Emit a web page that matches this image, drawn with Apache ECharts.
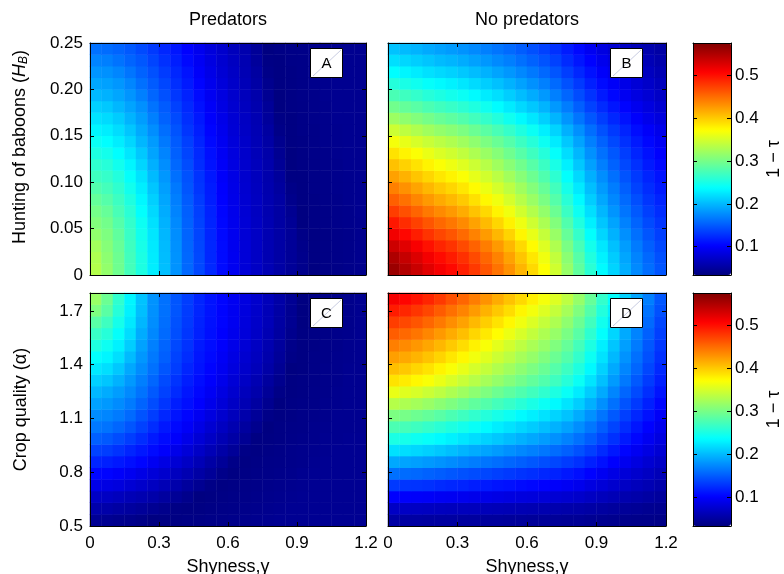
<!DOCTYPE html>
<html>
<head>
<meta charset="utf-8">
<script src="https://cdn.jsdelivr.net/npm/echarts@6/dist/echarts.min.js"></script>
<style>
  html, body { margin: 0; padding: 0; background: #fff; }
  #chart { width: 784px; height: 574px; }
</style>
</head>
<body>
<div id="chart"></div>
<script>
// cell centres: 24 columns of shyness, 20 rows per panel
const shynessCells = [0.025, 0.075, 0.125, 0.175, 0.225, 0.275, 0.325, 0.375, 0.425, 0.475, 0.525, 0.575,
  0.625, 0.675, 0.725, 0.775, 0.825, 0.875, 0.925, 0.975, 1.025, 1.075, 1.125, 1.175];
const huntingCells = [0.00625, 0.01875, 0.03125, 0.04375, 0.05625, 0.06875, 0.08125, 0.09375, 0.10625, 0.11875,
  0.13125, 0.14375, 0.15625, 0.16875, 0.18125, 0.19375, 0.20625, 0.21875, 0.23125, 0.24375];
const cropCells = [0.5325, 0.5975, 0.6625, 0.7275, 0.7925, 0.8575, 0.9225, 0.9875, 1.0525, 1.1175,
  1.1825, 1.2475, 1.3125, 1.3775, 1.4425, 1.5075, 1.5725, 1.6375, 1.7025, 1.7675];

const shynessTicks = [0, 0.3, 0.6, 0.9, 1.2];
const huntingTicks = [0, 0.05, 0.1, 0.15, 0.2, 0.25];
const cropTicks = [0.5, 0.8, 1.1, 1.4, 1.7];
const colorTicks = [0.1, 0.2, 0.3, 0.4, 0.5];
const colorMin = 0.034;
const colorMax = 0.575;

// 1 - tau, one row per hunting / crop cell, bottom row first
const predatorsHunting = [
  [0.332, 0.315, 0.296, 0.273, 0.252, 0.228, 0.203, 0.180, 0.157, 0.140, 0.123, 0.107, 0.094, 0.081, 0.071, 0.062, 0.054, 0.047, 0.041, 0.035, 0.037, 0.038, 0.040, 0.041],
  [0.329, 0.312, 0.295, 0.272, 0.251, 0.227, 0.202, 0.180, 0.157, 0.140, 0.122, 0.107, 0.094, 0.081, 0.071, 0.061, 0.054, 0.047, 0.041, 0.036, 0.037, 0.039, 0.040, 0.042],
  [0.323, 0.308, 0.292, 0.270, 0.249, 0.226, 0.201, 0.179, 0.156, 0.139, 0.122, 0.107, 0.093, 0.081, 0.071, 0.061, 0.054, 0.047, 0.040, 0.036, 0.037, 0.039, 0.040, 0.042],
  [0.314, 0.304, 0.288, 0.267, 0.246, 0.224, 0.199, 0.177, 0.155, 0.138, 0.121, 0.106, 0.093, 0.080, 0.071, 0.061, 0.054, 0.047, 0.038, 0.036, 0.037, 0.039, 0.040, 0.042],
  [0.306, 0.298, 0.282, 0.264, 0.243, 0.221, 0.196, 0.175, 0.154, 0.137, 0.120, 0.105, 0.092, 0.080, 0.070, 0.061, 0.053, 0.046, 0.035, 0.037, 0.038, 0.040, 0.041, 0.042],
  [0.299, 0.291, 0.275, 0.259, 0.238, 0.217, 0.193, 0.172, 0.152, 0.135, 0.119, 0.104, 0.091, 0.079, 0.069, 0.060, 0.053, 0.044, 0.035, 0.037, 0.038, 0.040, 0.041, 0.043],
  [0.290, 0.282, 0.269, 0.253, 0.233, 0.212, 0.190, 0.169, 0.150, 0.133, 0.117, 0.102, 0.090, 0.078, 0.069, 0.060, 0.053, 0.041, 0.036, 0.037, 0.039, 0.040, 0.042, 0.043],
  [0.280, 0.273, 0.262, 0.246, 0.228, 0.207, 0.186, 0.166, 0.147, 0.130, 0.116, 0.101, 0.089, 0.077, 0.068, 0.059, 0.051, 0.039, 0.036, 0.038, 0.039, 0.041, 0.042, 0.043],
  [0.270, 0.265, 0.255, 0.239, 0.222, 0.201, 0.182, 0.161, 0.145, 0.128, 0.114, 0.099, 0.088, 0.076, 0.067, 0.058, 0.049, 0.036, 0.036, 0.038, 0.039, 0.041, 0.042, 0.043],
  [0.262, 0.257, 0.246, 0.232, 0.215, 0.195, 0.177, 0.157, 0.142, 0.125, 0.111, 0.098, 0.086, 0.075, 0.066, 0.058, 0.046, 0.035, 0.037, 0.038, 0.040, 0.041, 0.043, 0.043],
  [0.252, 0.247, 0.237, 0.224, 0.208, 0.189, 0.172, 0.153, 0.138, 0.123, 0.109, 0.096, 0.084, 0.074, 0.064, 0.056, 0.044, 0.035, 0.037, 0.039, 0.040, 0.042, 0.043, 0.043],
  [0.242, 0.237, 0.228, 0.216, 0.199, 0.184, 0.166, 0.150, 0.135, 0.120, 0.106, 0.094, 0.082, 0.073, 0.063, 0.054, 0.042, 0.036, 0.037, 0.039, 0.041, 0.042, 0.043, 0.043],
  [0.232, 0.228, 0.219, 0.207, 0.192, 0.177, 0.160, 0.146, 0.130, 0.117, 0.103, 0.092, 0.080, 0.071, 0.062, 0.052, 0.039, 0.036, 0.038, 0.039, 0.041, 0.042, 0.043, 0.043],
  [0.222, 0.218, 0.210, 0.197, 0.185, 0.170, 0.154, 0.141, 0.126, 0.114, 0.100, 0.090, 0.079, 0.070, 0.061, 0.049, 0.037, 0.036, 0.038, 0.040, 0.041, 0.043, 0.043, 0.043],
  [0.212, 0.208, 0.199, 0.189, 0.178, 0.163, 0.150, 0.136, 0.123, 0.110, 0.098, 0.087, 0.077, 0.068, 0.059, 0.047, 0.035, 0.037, 0.038, 0.040, 0.041, 0.043, 0.043, 0.043],
  [0.200, 0.196, 0.190, 0.181, 0.170, 0.156, 0.144, 0.131, 0.119, 0.107, 0.095, 0.085, 0.075, 0.066, 0.057, 0.044, 0.035, 0.037, 0.039, 0.040, 0.042, 0.043, 0.043, 0.043],
  [0.190, 0.187, 0.182, 0.173, 0.161, 0.150, 0.139, 0.126, 0.115, 0.103, 0.092, 0.082, 0.073, 0.064, 0.054, 0.042, 0.036, 0.037, 0.039, 0.041, 0.042, 0.043, 0.043, 0.043],
  [0.181, 0.179, 0.173, 0.164, 0.154, 0.144, 0.133, 0.122, 0.111, 0.099, 0.089, 0.079, 0.071, 0.062, 0.052, 0.039, 0.036, 0.037, 0.039, 0.041, 0.042, 0.043, 0.043, 0.043],
  [0.172, 0.169, 0.163, 0.155, 0.148, 0.138, 0.127, 0.117, 0.106, 0.096, 0.086, 0.077, 0.069, 0.061, 0.049, 0.037, 0.036, 0.038, 0.039, 0.041, 0.042, 0.043, 0.043, 0.043],
  [0.162, 0.159, 0.155, 0.149, 0.141, 0.132, 0.122, 0.113, 0.102, 0.093, 0.083, 0.075, 0.066, 0.059, 0.047, 0.035, 0.037, 0.038, 0.039, 0.041, 0.042, 0.043, 0.043, 0.043]
];
const noPredatorsHunting = [
  [0.560, 0.548, 0.536, 0.523, 0.512, 0.503, 0.491, 0.477, 0.462, 0.446, 0.430, 0.411, 0.392, 0.371, 0.347, 0.317, 0.288, 0.259, 0.235, 0.214, 0.194, 0.175, 0.160, 0.147],
  [0.550, 0.538, 0.526, 0.513, 0.502, 0.493, 0.482, 0.468, 0.453, 0.438, 0.421, 0.403, 0.385, 0.364, 0.340, 0.311, 0.283, 0.254, 0.230, 0.210, 0.190, 0.172, 0.157, 0.144],
  [0.534, 0.523, 0.511, 0.499, 0.488, 0.480, 0.468, 0.455, 0.441, 0.426, 0.410, 0.392, 0.374, 0.354, 0.330, 0.302, 0.275, 0.247, 0.224, 0.204, 0.185, 0.167, 0.152, 0.140],
  [0.514, 0.504, 0.492, 0.480, 0.470, 0.462, 0.451, 0.438, 0.425, 0.410, 0.395, 0.377, 0.360, 0.341, 0.318, 0.291, 0.265, 0.238, 0.215, 0.196, 0.178, 0.161, 0.147, 0.135],
  [0.495, 0.484, 0.473, 0.462, 0.452, 0.444, 0.434, 0.421, 0.408, 0.394, 0.379, 0.363, 0.346, 0.328, 0.306, 0.280, 0.254, 0.229, 0.207, 0.189, 0.171, 0.155, 0.141, 0.130],
  [0.475, 0.465, 0.454, 0.443, 0.434, 0.426, 0.416, 0.404, 0.392, 0.378, 0.364, 0.348, 0.332, 0.315, 0.294, 0.268, 0.244, 0.220, 0.199, 0.181, 0.164, 0.149, 0.135, 0.125],
  [0.456, 0.447, 0.436, 0.426, 0.417, 0.409, 0.400, 0.388, 0.376, 0.364, 0.350, 0.334, 0.319, 0.302, 0.282, 0.258, 0.235, 0.211, 0.191, 0.174, 0.158, 0.143, 0.130, 0.120],
  [0.439, 0.430, 0.420, 0.410, 0.401, 0.394, 0.385, 0.374, 0.362, 0.350, 0.337, 0.322, 0.307, 0.291, 0.272, 0.248, 0.226, 0.203, 0.184, 0.168, 0.152, 0.137, 0.125, 0.115],
  [0.422, 0.413, 0.403, 0.394, 0.385, 0.378, 0.370, 0.359, 0.348, 0.336, 0.323, 0.309, 0.295, 0.279, 0.261, 0.238, 0.217, 0.195, 0.177, 0.161, 0.146, 0.132, 0.120, 0.111],
  [0.405, 0.396, 0.387, 0.378, 0.370, 0.363, 0.355, 0.345, 0.334, 0.322, 0.310, 0.297, 0.283, 0.268, 0.250, 0.229, 0.208, 0.187, 0.169, 0.154, 0.140, 0.127, 0.115, 0.106],
  [0.387, 0.378, 0.370, 0.361, 0.353, 0.347, 0.339, 0.329, 0.319, 0.308, 0.296, 0.283, 0.270, 0.256, 0.239, 0.219, 0.199, 0.179, 0.162, 0.148, 0.134, 0.121, 0.110, 0.101],
  [0.367, 0.360, 0.351, 0.343, 0.336, 0.330, 0.322, 0.313, 0.303, 0.293, 0.282, 0.269, 0.257, 0.243, 0.227, 0.208, 0.189, 0.170, 0.154, 0.140, 0.127, 0.115, 0.105, 0.096],
  [0.345, 0.338, 0.330, 0.322, 0.315, 0.310, 0.303, 0.294, 0.285, 0.275, 0.265, 0.253, 0.242, 0.229, 0.214, 0.195, 0.178, 0.160, 0.145, 0.132, 0.120, 0.108, 0.099, 0.091],
  [0.320, 0.313, 0.306, 0.299, 0.292, 0.287, 0.280, 0.272, 0.264, 0.255, 0.245, 0.234, 0.224, 0.212, 0.198, 0.181, 0.164, 0.148, 0.134, 0.122, 0.111, 0.100, 0.091, 0.084],
  [0.297, 0.290, 0.284, 0.277, 0.271, 0.266, 0.260, 0.253, 0.245, 0.236, 0.227, 0.217, 0.208, 0.197, 0.183, 0.168, 0.152, 0.137, 0.124, 0.113, 0.103, 0.093, 0.085, 0.078],
  [0.276, 0.270, 0.264, 0.257, 0.252, 0.247, 0.242, 0.235, 0.227, 0.220, 0.211, 0.202, 0.193, 0.183, 0.170, 0.156, 0.142, 0.128, 0.115, 0.105, 0.095, 0.086, 0.079, 0.072],
  [0.256, 0.250, 0.245, 0.239, 0.234, 0.230, 0.224, 0.218, 0.211, 0.204, 0.196, 0.188, 0.179, 0.170, 0.158, 0.145, 0.132, 0.118, 0.107, 0.098, 0.089, 0.080, 0.073, 0.067],
  [0.237, 0.232, 0.227, 0.221, 0.217, 0.213, 0.208, 0.202, 0.196, 0.189, 0.182, 0.174, 0.166, 0.157, 0.147, 0.134, 0.122, 0.110, 0.099, 0.091, 0.082, 0.074, 0.068, 0.062],
  [0.220, 0.216, 0.211, 0.206, 0.201, 0.198, 0.193, 0.187, 0.182, 0.175, 0.169, 0.161, 0.154, 0.146, 0.136, 0.124, 0.113, 0.102, 0.092, 0.084, 0.076, 0.069, 0.063, 0.058],
  [0.205, 0.201, 0.197, 0.192, 0.188, 0.184, 0.180, 0.175, 0.170, 0.164, 0.158, 0.151, 0.144, 0.136, 0.127, 0.116, 0.106, 0.095, 0.086, 0.078, 0.071, 0.064, 0.059, 0.054]
];
const predatorsCrop = [
  [0.045, 0.044, 0.042, 0.041, 0.038, 0.035, 0.036, 0.036, 0.037, 0.037, 0.038, 0.039, 0.040, 0.041, 0.042, 0.043, 0.044, 0.044, 0.044, 0.044, 0.044, 0.044, 0.044, 0.044],
  [0.057, 0.056, 0.053, 0.051, 0.048, 0.044, 0.041, 0.037, 0.036, 0.036, 0.037, 0.038, 0.039, 0.040, 0.041, 0.042, 0.043, 0.044, 0.044, 0.044, 0.044, 0.044, 0.044, 0.044],
  [0.071, 0.070, 0.067, 0.063, 0.060, 0.056, 0.051, 0.046, 0.041, 0.035, 0.036, 0.037, 0.038, 0.039, 0.040, 0.041, 0.042, 0.043, 0.044, 0.044, 0.044, 0.044, 0.044, 0.044],
  [0.089, 0.087, 0.084, 0.079, 0.074, 0.069, 0.063, 0.057, 0.050, 0.044, 0.038, 0.036, 0.037, 0.038, 0.039, 0.040, 0.041, 0.042, 0.043, 0.044, 0.044, 0.044, 0.044, 0.044],
  [0.105, 0.103, 0.099, 0.094, 0.088, 0.081, 0.075, 0.068, 0.061, 0.054, 0.047, 0.040, 0.036, 0.037, 0.038, 0.039, 0.040, 0.041, 0.043, 0.044, 0.044, 0.044, 0.044, 0.044],
  [0.121, 0.118, 0.114, 0.109, 0.104, 0.095, 0.087, 0.079, 0.071, 0.063, 0.054, 0.047, 0.039, 0.036, 0.037, 0.038, 0.039, 0.040, 0.041, 0.043, 0.044, 0.044, 0.044, 0.044],
  [0.137, 0.134, 0.128, 0.121, 0.114, 0.107, 0.100, 0.090, 0.081, 0.072, 0.063, 0.055, 0.047, 0.038, 0.036, 0.037, 0.038, 0.040, 0.041, 0.042, 0.043, 0.044, 0.044, 0.044],
  [0.153, 0.149, 0.142, 0.134, 0.125, 0.115, 0.107, 0.100, 0.090, 0.080, 0.071, 0.062, 0.054, 0.045, 0.036, 0.036, 0.037, 0.039, 0.040, 0.041, 0.043, 0.043, 0.044, 0.044],
  [0.166, 0.163, 0.156, 0.147, 0.136, 0.125, 0.114, 0.106, 0.098, 0.088, 0.078, 0.069, 0.060, 0.051, 0.042, 0.035, 0.037, 0.038, 0.039, 0.041, 0.042, 0.043, 0.043, 0.043],
  [0.176, 0.173, 0.167, 0.158, 0.146, 0.134, 0.122, 0.112, 0.104, 0.095, 0.085, 0.076, 0.066, 0.057, 0.047, 0.039, 0.036, 0.037, 0.039, 0.040, 0.041, 0.043, 0.043, 0.043],
  [0.187, 0.183, 0.176, 0.167, 0.155, 0.142, 0.130, 0.117, 0.109, 0.101, 0.091, 0.081, 0.071, 0.062, 0.052, 0.043, 0.035, 0.037, 0.038, 0.039, 0.041, 0.042, 0.043, 0.043],
  [0.199, 0.193, 0.185, 0.175, 0.163, 0.149, 0.136, 0.124, 0.113, 0.105, 0.096, 0.086, 0.076, 0.066, 0.057, 0.047, 0.038, 0.036, 0.037, 0.039, 0.040, 0.042, 0.043, 0.043],
  [0.212, 0.207, 0.196, 0.183, 0.169, 0.156, 0.141, 0.129, 0.117, 0.108, 0.100, 0.091, 0.080, 0.071, 0.061, 0.051, 0.042, 0.036, 0.037, 0.038, 0.040, 0.041, 0.043, 0.043],
  [0.226, 0.220, 0.208, 0.191, 0.176, 0.162, 0.147, 0.134, 0.121, 0.111, 0.103, 0.094, 0.084, 0.074, 0.065, 0.055, 0.045, 0.035, 0.036, 0.038, 0.040, 0.041, 0.043, 0.043],
  [0.238, 0.232, 0.220, 0.201, 0.182, 0.166, 0.152, 0.137, 0.125, 0.113, 0.106, 0.097, 0.087, 0.077, 0.068, 0.058, 0.048, 0.038, 0.036, 0.038, 0.039, 0.041, 0.042, 0.043],
  [0.253, 0.244, 0.230, 0.211, 0.188, 0.170, 0.155, 0.140, 0.128, 0.115, 0.108, 0.100, 0.090, 0.080, 0.070, 0.060, 0.050, 0.040, 0.036, 0.037, 0.039, 0.040, 0.042, 0.043],
  [0.267, 0.257, 0.239, 0.219, 0.193, 0.174, 0.158, 0.143, 0.130, 0.118, 0.109, 0.101, 0.092, 0.082, 0.072, 0.062, 0.052, 0.042, 0.036, 0.037, 0.038, 0.040, 0.041, 0.043],
  [0.284, 0.270, 0.248, 0.225, 0.199, 0.177, 0.160, 0.145, 0.132, 0.119, 0.110, 0.103, 0.094, 0.083, 0.073, 0.064, 0.053, 0.044, 0.035, 0.037, 0.038, 0.040, 0.041, 0.043],
  [0.304, 0.285, 0.257, 0.230, 0.203, 0.179, 0.162, 0.147, 0.133, 0.121, 0.111, 0.103, 0.094, 0.084, 0.074, 0.064, 0.054, 0.044, 0.035, 0.037, 0.038, 0.040, 0.041, 0.043],
  [0.318, 0.294, 0.262, 0.232, 0.205, 0.180, 0.162, 0.147, 0.134, 0.121, 0.111, 0.104, 0.095, 0.085, 0.075, 0.065, 0.055, 0.045, 0.035, 0.037, 0.038, 0.040, 0.041, 0.043]
];
const noPredatorsCrop = [
  [0.054, 0.053, 0.053, 0.052, 0.052, 0.052, 0.051, 0.051, 0.050, 0.050, 0.049, 0.049, 0.048, 0.048, 0.047, 0.046, 0.046, 0.044, 0.043, 0.042, 0.041, 0.040, 0.040, 0.039],
  [0.071, 0.071, 0.070, 0.069, 0.068, 0.067, 0.067, 0.066, 0.065, 0.064, 0.063, 0.062, 0.061, 0.060, 0.059, 0.057, 0.056, 0.054, 0.052, 0.050, 0.048, 0.046, 0.044, 0.043],
  [0.101, 0.100, 0.099, 0.098, 0.096, 0.095, 0.093, 0.091, 0.090, 0.088, 0.086, 0.084, 0.083, 0.081, 0.079, 0.077, 0.074, 0.070, 0.066, 0.063, 0.059, 0.056, 0.053, 0.050],
  [0.132, 0.130, 0.129, 0.127, 0.124, 0.122, 0.120, 0.117, 0.115, 0.112, 0.110, 0.107, 0.105, 0.102, 0.099, 0.096, 0.092, 0.086, 0.081, 0.076, 0.071, 0.066, 0.062, 0.057],
  [0.161, 0.159, 0.157, 0.154, 0.151, 0.148, 0.145, 0.142, 0.139, 0.135, 0.132, 0.129, 0.126, 0.122, 0.119, 0.114, 0.109, 0.102, 0.095, 0.088, 0.081, 0.075, 0.070, 0.064],
  [0.191, 0.189, 0.186, 0.183, 0.180, 0.176, 0.172, 0.168, 0.164, 0.160, 0.156, 0.152, 0.148, 0.143, 0.139, 0.133, 0.127, 0.118, 0.110, 0.101, 0.093, 0.085, 0.078, 0.072],
  [0.221, 0.219, 0.216, 0.212, 0.208, 0.203, 0.198, 0.193, 0.189, 0.184, 0.179, 0.174, 0.170, 0.165, 0.159, 0.153, 0.145, 0.135, 0.124, 0.114, 0.104, 0.095, 0.087, 0.079],
  [0.251, 0.248, 0.244, 0.240, 0.235, 0.230, 0.224, 0.219, 0.213, 0.208, 0.202, 0.196, 0.191, 0.185, 0.179, 0.171, 0.162, 0.151, 0.139, 0.127, 0.115, 0.105, 0.095, 0.086],
  [0.277, 0.274, 0.270, 0.265, 0.259, 0.253, 0.247, 0.241, 0.235, 0.228, 0.222, 0.216, 0.210, 0.203, 0.196, 0.188, 0.177, 0.165, 0.151, 0.138, 0.125, 0.113, 0.102, 0.092],
  [0.303, 0.300, 0.295, 0.290, 0.284, 0.277, 0.270, 0.263, 0.256, 0.249, 0.243, 0.235, 0.229, 0.222, 0.214, 0.205, 0.193, 0.179, 0.164, 0.149, 0.135, 0.122, 0.110, 0.098],
  [0.333, 0.329, 0.324, 0.318, 0.311, 0.304, 0.296, 0.288, 0.281, 0.273, 0.266, 0.258, 0.250, 0.242, 0.234, 0.223, 0.211, 0.195, 0.178, 0.162, 0.146, 0.132, 0.118, 0.105],
  [0.361, 0.356, 0.351, 0.344, 0.337, 0.329, 0.321, 0.312, 0.304, 0.295, 0.287, 0.279, 0.271, 0.262, 0.252, 0.241, 0.227, 0.210, 0.192, 0.173, 0.156, 0.141, 0.126, 0.112],
  [0.387, 0.382, 0.376, 0.369, 0.361, 0.352, 0.343, 0.334, 0.325, 0.316, 0.307, 0.298, 0.289, 0.280, 0.270, 0.257, 0.242, 0.223, 0.204, 0.184, 0.166, 0.149, 0.133, 0.118],
  [0.406, 0.401, 0.394, 0.387, 0.378, 0.369, 0.360, 0.350, 0.341, 0.331, 0.322, 0.312, 0.303, 0.293, 0.282, 0.269, 0.253, 0.234, 0.213, 0.192, 0.173, 0.156, 0.139, 0.123],
  [0.423, 0.418, 0.412, 0.404, 0.395, 0.385, 0.376, 0.365, 0.356, 0.345, 0.336, 0.325, 0.316, 0.305, 0.294, 0.281, 0.264, 0.243, 0.222, 0.200, 0.180, 0.161, 0.144, 0.127],
  [0.440, 0.434, 0.427, 0.419, 0.410, 0.400, 0.390, 0.379, 0.369, 0.358, 0.348, 0.337, 0.327, 0.317, 0.305, 0.291, 0.273, 0.252, 0.229, 0.207, 0.186, 0.167, 0.148, 0.131],
  [0.458, 0.452, 0.445, 0.436, 0.426, 0.416, 0.406, 0.394, 0.384, 0.373, 0.362, 0.351, 0.340, 0.329, 0.317, 0.302, 0.284, 0.261, 0.238, 0.215, 0.192, 0.172, 0.153, 0.135],
  [0.475, 0.469, 0.462, 0.453, 0.443, 0.432, 0.421, 0.409, 0.398, 0.387, 0.376, 0.364, 0.353, 0.341, 0.329, 0.313, 0.294, 0.271, 0.246, 0.222, 0.199, 0.178, 0.158, 0.139],
  [0.493, 0.487, 0.479, 0.470, 0.459, 0.448, 0.437, 0.425, 0.413, 0.401, 0.390, 0.377, 0.366, 0.354, 0.341, 0.325, 0.305, 0.281, 0.255, 0.230, 0.206, 0.184, 0.163, 0.144],
  [0.512, 0.505, 0.498, 0.488, 0.477, 0.465, 0.453, 0.441, 0.429, 0.416, 0.404, 0.392, 0.380, 0.367, 0.354, 0.337, 0.316, 0.291, 0.264, 0.238, 0.213, 0.190, 0.169, 0.148]
];

const jet = ['#00007f', '#0000ff', '#007fff', '#00ffff', '#7fff7f', '#ffff00', '#ff7f00', '#ff0000', '#7f0000'];
const font = '"Liberation Sans", Arial, Helvetica, sans-serif';
const fs = 17;   // tick labels
const fsName = 18; // titles and axis names

const panels = [
  { rect: { left: 90, top: 43, width: 276, height: 232 }, rows: predatorsHunting, yCells: huntingCells, letter: 'A', bottom: false, leftLabels: true, kind: 'hunting' },
  { rect: { left: 388, top: 43, width: 278, height: 232 }, rows: noPredatorsHunting, yCells: huntingCells, letter: 'B', bottom: false, leftLabels: false, kind: 'hunting' },
  { rect: { left: 90, top: 293, width: 276, height: 233 }, rows: predatorsCrop, yCells: cropCells, letter: 'C', bottom: true, leftLabels: true, kind: 'crop' },
  { rect: { left: 388, top: 293, width: 278, height: 233 }, rows: noPredatorsCrop, yCells: cropCells, letter: 'D', bottom: true, leftLabels: false, kind: 'crop' }
];
const bars = [
  { left: 693, top: 43, width: 38, height: 232 },
  { left: 693, top: 293, width: 38, height: 233 }
];

const line = { show: true, onZero: false, lineStyle: { color: '#000', width: 1 } };
const tick = (vals) => ({ show: true, inside: true, length: 4, customValues: vals, lineStyle: { color: '#000' } });
const labelStyle = { color: '#000', fontSize: fs, fontFamily: font };
const nameStyle = { color: '#000', fontSize: fsName, fontFamily: font };

const grid = [];
const xAxis = [];
const yAxis = [];
const series = [];

// heatmap grids (category axes, hidden)
panels.forEach((p, k) => {
  grid.push(Object.assign({ outerBoundsMode: 'none' }, p.rect));
  xAxis.push({ type: 'category', gridIndex: k, data: shynessCells.map(String), show: false });
  yAxis.push({ type: 'category', gridIndex: k, data: p.yCells.map(String), show: false });
  series.push({
    type: 'heatmap', xAxisIndex: k, yAxisIndex: k, silent: true,
    data: p.rows.flatMap((row, j) => row.map((v, i) => [i, j, v])),
    itemStyle: { borderWidth: 0 },
    emphasis: { disabled: true }
  });
});

// frame grids with the value axes on top of the heatmaps
panels.forEach((p) => {
  const g = grid.length;
  grid.push(Object.assign({ outerBoundsMode: 'none' }, p.rect));
  const xBase = { type: 'value', gridIndex: g, min: 0, max: 1.2, z: 5, axisLine: line, axisTick: tick(shynessTicks), splitLine: { show: false } };
  xAxis.push(Object.assign({}, xBase, {
    position: 'bottom',
    axisLabel: { show: p.bottom, customValues: shynessTicks, margin: 9, ...labelStyle },
    name: p.bottom ? 'Shyness,γ' : '', nameLocation: 'middle', nameGap: 32,
    nameTextStyle: nameStyle
  }));
  xAxis.push(Object.assign({}, xBase, { position: 'top', axisLabel: { show: false } }));

  const yb = p.kind === 'hunting'
    ? { min: 0, max: 0.25, ticks: huntingTicks, fmt: (v) => (v === 0 ? '0' : v.toFixed(2)) }
    : { min: 0.5, max: 1.8, ticks: cropTicks, fmt: (v) => v.toFixed(1) };
  const yBase = { type: 'value', gridIndex: g, min: yb.min, max: yb.max, z: 5, axisLine: line, axisTick: tick(yb.ticks), splitLine: { show: false } };
  let yName = '';
  let yNameStyle = nameStyle;
  if (p.leftLabels && p.kind === 'hunting') {
    yName = '{t|Hunting of baboons (}{i|H}{s|B}{t|)}';
    yNameStyle = Object.assign({}, nameStyle, {
      padding: [0, 0, 0, 24],
      rich: {
        t: { fontSize: fsName, fontFamily: font, color: '#000' },
        i: { fontSize: fsName, fontFamily: font, fontStyle: 'italic', color: '#000' },
        s: { fontSize: 12, fontFamily: font, fontStyle: 'italic', color: '#000', verticalAlign: 'bottom', padding: [8, 0, 0, 0] }
      }
    });
  } else if (p.leftLabels) {
    yName = 'Crop quality (α)';
  }
  yAxis.push(Object.assign({}, yBase, {
    position: 'left',
    axisLabel: { show: p.leftLabels, customValues: yb.ticks, formatter: yb.fmt, margin: 7, ...labelStyle },
    name: yName, nameLocation: 'middle', nameGap: 60, nameTextStyle: yNameStyle
  }));
  yAxis.push(Object.assign({}, yBase, { position: 'right', axisLabel: { show: false } }));
});

// colour bar frames
bars.forEach((b) => {
  const g = grid.length;
  grid.push(Object.assign({ outerBoundsMode: 'none' }, b));
  const xBase = { type: 'value', gridIndex: g, min: 0, max: 1, z: 5, axisLine: line, axisTick: { show: false }, axisLabel: { show: false }, splitLine: { show: false } };
  xAxis.push(Object.assign({}, xBase, { position: 'bottom' }));
  xAxis.push(Object.assign({}, xBase, { position: 'top' }));
  const yBase = { type: 'value', gridIndex: g, min: colorMin, max: colorMax, z: 5, axisLine: line, axisTick: tick(colorTicks), splitLine: { show: false } };
  yAxis.push(Object.assign({}, yBase, { position: 'left', axisLabel: { show: false } }));
  yAxis.push(Object.assign({}, yBase, {
    position: 'right',
    axisLabel: { show: true, customValues: colorTicks, formatter: (v) => v.toFixed(1), margin: 4, ...labelStyle },
    name: '1 − τ', nameLocation: 'middle', nameGap: 34, nameTextStyle: nameStyle
  }));
});

const visualMap = bars.map((b, k) => ({
  type: 'continuous', min: colorMin, max: colorMax, seriesIndex: k === 0 ? [0, 1] : [2, 3],
  orient: 'vertical', left: b.left, top: b.top, itemWidth: b.width, itemHeight: b.height,
  padding: 0, calculable: false, hoverLink: false, inRange: { color: jet }
}));

// panel titles and letter boxes
const graphic = [
  { type: 'text', x: 228, y: 20, z: 100, style: { text: 'Predators', fontSize: fsName, fontFamily: font, fill: '#000', align: 'center', verticalAlign: 'middle' } },
  { type: 'text', x: 527, y: 20, z: 100, style: { text: 'No predators', fontSize: fsName, fontFamily: font, fill: '#000', align: 'center', verticalAlign: 'middle' } }
];
panels.forEach((p) => {
  const bx = p.rect.left + p.rect.width - 56;
  const by = p.rect.top + 5;
  graphic.push({ type: 'rect', z: 100, shape: { x: bx + 0.5, y: by + 0.5, width: 32, height: 29 }, style: { fill: '#fff', stroke: '#000', lineWidth: 1 } });
  graphic.push({ type: 'line', z: 101, shape: { x1: bx + 31, y1: by + 2, x2: bx + 3, y2: by + 28 }, style: { stroke: '#c9cde2', lineWidth: 1 } });
  graphic.push({ type: 'text', z: 102, x: bx + 16.5, y: by + 15.5, style: { text: p.letter, fontSize: 15, fontFamily: font, fill: '#000', align: 'center', verticalAlign: 'middle' } });
});

const chart = echarts.init(document.getElementById('chart'), null, { renderer: 'canvas' });
chart.setOption({
  animation: false,
  backgroundColor: '#fff',
  grid, xAxis, yAxis, series, visualMap, graphic
});
</script>
</body>
</html>
